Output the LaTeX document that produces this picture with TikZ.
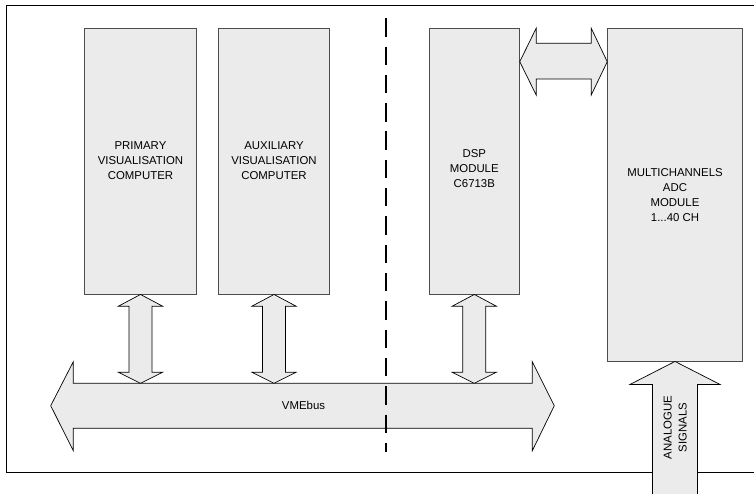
\documentclass[tikz,border=0pt]{standalone}
\usepackage{fontspec}
\setmainfont{Liberation Sans}
\usetikzlibrary{calc}
\definecolor{boxfill}{HTML}{EBEBEB}
\tikzset{
  modbox/.style={draw=black!70, line width=0.9pt, fill=boxfill, inner sep=0pt, align=center,
    font=\fontsize{11.4}{15}\selectfont},
  arrowshape/.style={draw=black, line width=0.7pt, fill=boxfill, line join=miter},
  lbl/.style={align=center, font=\fontsize{11.4}{15}\selectfont, inner sep=0pt},
  frameline/.style={draw=black, line width=1pt},
  divider/.style={draw=black, line width=2pt, dash pattern=on 18.4pt off 9.9pt}
}
\begin{document}
\begin{tikzpicture}[x=1pt,y=-1pt]
\useasboundingbox (0,0) rectangle (754,494);
\fill[white] (0,0) rectangle (754,494);
% frame
\draw[frameline] (754,6) -- (6,6) -- (6,472) -- (754,472);
% boxes
\node[modbox, minimum width=112.4pt, minimum height=265.7pt] (prim) at (140.5,161.15) {};
\node[lbl] at (140.5,160.7) {PRIMARY\\VISUALISATION\\COMPUTER};
\node[modbox, minimum width=111.4pt, minimum height=265.7pt] (aux) at (274,161.15) {};
\node[lbl] at (274,160.7) {AUXILIARY\\VISUALISATION\\COMPUTER};
\node[modbox, minimum width=90pt, minimum height=265.7pt] (dsp) at (474.3,161.15) {};
\node[lbl] at (474.3,168.5) {DSP\\MODULE\\C6713B};
\node[modbox, minimum width=134.6pt, minimum height=332.7pt] (adc) at (675,194.65) {MULTICHANNELS\\ADC\\MODULE\\1...40 CH};
% bus
\coordinate (busL) at (50.7,405.7);
\coordinate (busR) at (554.3,405.7);
\draw[arrowshape] (busL) -- ($(busL)+(22.6,-44)$) -- ($(busL)+(22.6,-22.4)$) -- ($(busR)+(-22,-22.4)$)
  -- ($(busR)+(-22,-44)$) -- (busR) -- ($(busR)+(-22,45)$) -- ($(busR)+(-22,22.6)$)
  -- ($(busL)+(22.6,22.6)$) -- ($(busL)+(22.6,45)$) -- cycle;
\node[lbl] (vme) at (303.5,405.7) {VMEbus};
% vertical double arrows
\foreach \b in {prim,aux,dsp}{
  \coordinate (t) at (\b.south);
  \coordinate (bt) at (\b.south |- 0,383.3);
  \draw[arrowshape] (t) -- ($(t)+(22,11.7)$) -- ($(t)+(11.5,11.7)$) -- ($(bt)+(11.5,-11)$)
    -- ($(bt)+(22,-11)$) -- (bt) -- ($(bt)+(-22,-11)$) -- ($(bt)+(-11.5,-11)$)
    -- ($(t)+(-11.5,11.7)$) -- ($(t)+(-22,11.7)$) -- cycle;
}
% DSP - ADC arrow
\coordinate (hl) at (dsp.east |- 0,61.7);
\coordinate (hr) at (adc.west |- 0,61.7);
\draw[arrowshape] (hl) -- ($(hl)+(16.4,-33.4)$) -- ($(hl)+(16.4,-18.4)$) -- ($(hr)+(-16,-18.4)$)
  -- ($(hr)+(-16,-33.4)$) -- (hr) -- ($(hr)+(-16,33.3)$) -- ($(hr)+(-16,17.3)$)
  -- ($(hl)+(16.4,17.3)$) -- ($(hl)+(16.4,33.3)$) -- cycle;
% analogue signals arrow
\coordinate (an) at (adc.south);
\draw[arrowshape] (an) -- ($(an)+(45,23)$) -- ($(an)+(22.5,23)$) -- ($(an)+(22.5,140)$)
  -- ($(an)+(-22.5,140)$) -- ($(an)+(-22.5,23)$) -- ($(an)+(-45,23)$) -- cycle;
\node[lbl, rotate=90] (ana) at (675.3,427.5) {ANALOGUE\\SIGNALS};
% divider
\draw[divider] (385.7,18.3) -- (385.7,451.7);
\end{tikzpicture}
\end{document}
